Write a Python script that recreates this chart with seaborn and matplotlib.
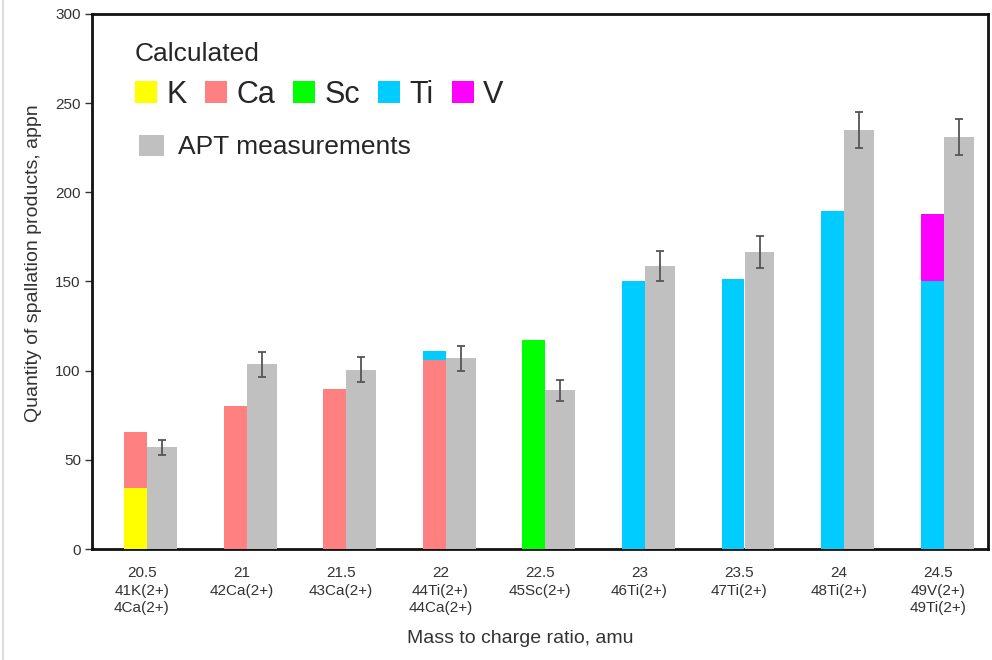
import numpy as np
import matplotlib.pyplot as plt
import seaborn as sns
from matplotlib.patches import Patch
from matplotlib.lines import Line2D

labels = ["20.5\n41K(2+)\n4Ca(2+)", "21\n42Ca(2+)", "21.5\n43Ca(2+)",
          "22\n44Ti(2+)\n44Ca(2+)", "22.5\n45Sc(2+)", "23\n46Ti(2+)",
          "23.5\n47Ti(2+)", "24\n48Ti(2+)", "24.5\n49V(2+)\n49Ti(2+)"]

# calculated contributions (stacked)
calc_K = [34, 0, 0, 0, 0, 0, 0, 0, 0]
calc_Ca = [31.4, 80, 90, 106, 0, 0, 0, 0, 0]
calc_Sc = [0, 0, 0, 0, 117, 0, 0, 0, 0]
calc_Ti = [0, 0, 0, 5, 0, 150.5, 151.5, 189.5, 150.5]
calc_V = [0, 0, 0, 0, 0, 0, 0, 0, 37.5]

# APT measurements with error
apt = [57, 103.5, 100.5, 107, 89, 158.5, 166.5, 235, 231]
apt_err = [4, 7, 7, 7, 6, 8.5, 9, 10, 10]

elements = ["K", "Ca", "Sc", "Ti", "V"]
colors = ["#FFFF00", "#FF8080", "#00FF00", "#00CCFF", "#FF00FF"]
gray = "#C0C0C0"

sns.set_style("white")
plt.rcParams['font.family'] = ['Liberation Sans', 'DejaVu Sans']

fig = plt.figure(figsize=(9.92, 6.6), dpi=100)
ax = fig.add_axes([0.0927, 0.168, 0.9033, 0.811])

x = np.arange(len(labels))

# APT bars via seaborn, then nudged right of the group centre
sns.barplot(x=labels, y=apt, color=gray, saturation=1, width=0.30,
            errorbar=None, ax=ax, zorder=3)
for p in ax.patches:
    p.set_x(p.get_x() + 0.205)
    p.set_linewidth(0)
ax.errorbar(x + 0.205, apt, yerr=apt_err, fmt="none", ecolor="#555555",
            elinewidth=1.3, capsize=3, capthick=1.3, zorder=4)

# calculated stacked bars
bottom = np.zeros(len(labels))
for name, vals, c in zip(elements, [calc_K, calc_Ca, calc_Sc, calc_Ti, calc_V], colors):
    vals = np.array(vals, dtype=float)
    ax.bar(x - 0.061, vals, width=0.23, bottom=bottom, color=c,
           linewidth=0, zorder=3)
    bottom += vals

ax.set_xlim(-0.5, 8.5)
ax.set_ylim(0, 300)
ax.set_yticks(np.arange(0, 301, 50))
ax.set_xticks(x)
ax.set_xticklabels(labels, fontsize=11, color="#333333", linespacing=1.35)
ax.set_xticks(np.arange(8) + 0.485, minor=True)
ax.tick_params(axis="x", which="major", length=0, pad=12)
ax.tick_params(axis="x", which="minor", length=4, width=1, direction="out",
               color="#333333")
ax.tick_params(axis="y", length=5, width=1, direction="out", color="#333333",
               labelsize=11, labelcolor="#333333", left=True, pad=3)

for s in ax.spines.values():
    s.set_visible(True)
    s.set_color("#111111")
    s.set_linewidth(2)

ax.set_ylabel("Quantity of spallation products, appn", fontsize=14,
              color="#333333")
ax.yaxis.set_label_coords(-0.056, 0.535)
ax.set_xlabel("Mass to charge ratio, amu", fontsize=14, color="#333333")
ax.xaxis.set_label_coords(0.478, -0.152)

# legends
h1 = [Patch(facecolor=c, edgecolor="none", label=n) for n, c in zip(elements, colors)]
leg1 = ax.legend(handles=h1, title="Calculated", ncol=5, loc="upper left",
                 bbox_to_anchor=(0.048, 0.948), frameon=False, fontsize=22,
                 title_fontsize=19, handlelength=0.72, handleheight=0.72,
                 handletextpad=0.3, columnspacing=0.6, borderpad=0,
                 borderaxespad=0, labelspacing=0.46, alignment="left")
ax.add_artist(leg1)
h2 = [Patch(facecolor=gray, edgecolor="none", label="APT measurements")]
ax.legend(handles=h2, loc="upper left", bbox_to_anchor=(0.052, 0.774),
          frameon=False, fontsize=19, handlelength=0.95, handleheight=0.85,
          handletextpad=0.55, borderpad=0, borderaxespad=0)

# faint frame line at the left edge of the picture
fig.add_artist(Line2D([0.003, 0.003], [0, 1], color="#DDDDDD", lw=1.5))

fig.savefig("out.png", dpi=100)
